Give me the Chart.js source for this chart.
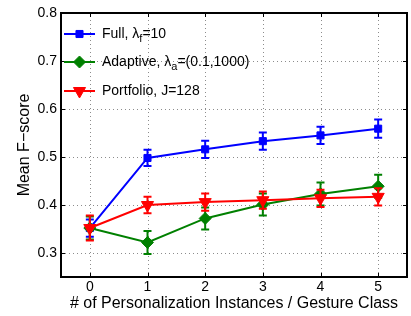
<!DOCTYPE html>
<html><head><meta charset="utf-8">
<script src="https://cdn.jsdelivr.net/npm/chart.js@4"></script>
<style>html,body{margin:0;padding:0;background:#fff}#wrap{width:411px;height:316px}</style>
</head><body><div id="wrap"><canvas id="c" width="411" height="316"></canvas></div>
<script>
const categories = [0, 1, 2, 3, 4, 5];
const fullValues = [0.352, 0.498, 0.516, 0.533, 0.545, 0.559];
const fullErr = [0.018, 0.017, 0.018, 0.018, 0.018, 0.019];
const adaptiveValues = [0.352, 0.322, 0.372, 0.401, 0.423, 0.439];
const adaptiveErr = [0.024, 0.024, 0.023, 0.023, 0.024, 0.024];
const portfolioValues = [0.352, 0.400, 0.406, 0.410, 0.414, 0.417];
const portfolioErr = [0.026, 0.017, 0.018, 0.018, 0.018, 0.018];
const yTicks = [0.3, 0.4, 0.5, 0.6, 0.7, 0.8];
const xTicks = [0, 1, 2, 3, 4, 5];
const legendItems = [
  {pre: 'Full, \u03bb', sub: 'f', post: '=10'},
  {pre: 'Adaptive, \u03bb', sub: 'a', post: '=(0.1,1000)'},
  {pre: 'Portfolio, J=128', sub: '', post: ''}
];
const FONT = '"Liberation Sans", Arial, sans-serif';
const colors = ['#0000ff', '#008000', '#ff0000'];
const styles = [
  {pointStyle: 'rect', radius: 5, rotation: 0},
  {pointStyle: 'rectRot', radius: 6, rotation: 0},
  {pointStyle: 'triangle', radius: 7, rotation: 180}
];
const errs = [fullErr, adaptiveErr, portfolioErr];
const mk = (vals, i) => ({
  data: vals.map((v, k) => ({x: categories[k], y: v})),
  borderColor: colors[i], backgroundColor: colors[i], borderWidth: 2,
  pointStyle: styles[i].pointStyle, pointRadius: styles[i].radius, pointRotation: styles[i].rotation,
  pointBorderWidth: 1, pointHoverRadius: styles[i].radius, tension: 0, order: 3 - i, errIdx: i
});

const errorPlugin = {
  id: 'errbars',
  afterDatasetDraw(chart, args) {
    const ds = chart.data.datasets[args.index];
    const e = errs[ds.errIdx];
    const ctx = chart.ctx, xs = chart.scales.x, ys = chart.scales.y;
    ctx.save();
    ctx.strokeStyle = ds.borderColor; ctx.lineWidth = 2;
    ds.data.forEach((p, k) => {
      const px = xs.getPixelForValue(p.x);
      const t = ys.getPixelForValue(p.y + e[k]), b = ys.getPixelForValue(p.y - e[k]);
      ctx.beginPath();
      ctx.moveTo(px, t); ctx.lineTo(px, b);
      ctx.moveTo(px - 4, t); ctx.lineTo(px + 4, t);
      ctx.moveTo(px - 4, b); ctx.lineTo(px + 4, b);
      ctx.stroke();
    });
    ctx.restore();
  }
};

const gridPlugin = {
  id: 'dotgrid',
  beforeDatasetsDraw(chart) {
    const ctx = chart.ctx, a = chart.chartArea, xs = chart.scales.x, ys = chart.scales.y;
    ctx.save();
    ctx.strokeStyle = '#8c8c8c'; ctx.lineWidth = 1; ctx.setLineDash([1, 3]);
    ctx.beginPath();
    xTicks.forEach(v => { const px = Math.round(xs.getPixelForValue(v)) + 0.5;
      ctx.moveTo(px, a.bottom); ctx.lineTo(px, a.top); });
    yTicks.forEach(v => { const py = Math.round(ys.getPixelForValue(v)) + 0.5;
      ctx.moveTo(a.left, py); ctx.lineTo(a.right, py); });
    ctx.stroke();
    ctx.restore();
  }
};

const framePlugin = {
  id: 'frame',
  afterDraw(chart) {
    const ctx = chart.ctx, a = chart.chartArea, xs = chart.scales.x, ys = chart.scales.y;
    ctx.save();
    ctx.strokeStyle = '#000'; ctx.lineWidth = 1;
    ctx.beginPath();
    xTicks.forEach(v => { const px = Math.round(xs.getPixelForValue(v)) + 0.5;
      ctx.moveTo(px, a.bottom); ctx.lineTo(px, a.bottom - 4);
      ctx.moveTo(px, a.top); ctx.lineTo(px, a.top + 4); });
    yTicks.forEach(v => { const py = Math.round(ys.getPixelForValue(v)) + 0.5;
      ctx.moveTo(a.left, py); ctx.lineTo(a.left + 4, py);
      ctx.moveTo(a.right, py); ctx.lineTo(a.right - 4, py); });
    ctx.stroke();
    ctx.lineWidth = 2;
    ctx.strokeRect(a.left, a.top, a.right - a.left, a.bottom - a.top);
    // legend
    const rows = [34, 62, 91];
    legendItems.forEach((it, i) => {
      const y = rows[i];
      ctx.strokeStyle = colors[i]; ctx.fillStyle = colors[i]; ctx.lineWidth = 2;
      ctx.beginPath(); ctx.moveTo(64, y); ctx.lineTo(95, y); ctx.stroke();
      ctx.lineWidth = 1;
      Chart.helpers.drawPoint(ctx, {pointStyle: styles[i].pointStyle, radius: styles[i].radius, rotation: styles[i].rotation, borderWidth: 1}, 79.5, y);
      ctx.fillStyle = '#000'; ctx.textBaseline = 'middle'; ctx.textAlign = 'left';
      ctx.font = '14px ' + FONT;
      let x = 102;
      ctx.fillText(it.pre, x, y); x += ctx.measureText(it.pre).width;
      if (it.sub) {
        ctx.font = '11px ' + FONT;
        ctx.fillText(it.sub, x, y + 5); x += ctx.measureText(it.sub).width;
        ctx.font = '14px ' + FONT;
        ctx.fillText(it.post, x, y);
      }
    });
    ctx.restore();
  }
};

new Chart(document.getElementById('c'), {
  type: 'line',
  data: {datasets: [mk(fullValues, 0), mk(adaptiveValues, 1), mk(portfolioValues, 2)]},
  plugins: [gridPlugin, errorPlugin, framePlugin],
  options: {
    responsive: false, animation: false, events: [],
    layout: {autoPadding: false, padding: {top: 13, right: 4, left: 0, bottom: 0}},
    plugins: {legend: {display: false}, tooltip: {enabled: false}},
    scales: {
      x: {type: 'linear', min: -0.5, max: 5.5,
        afterBuildTicks: s => { s.ticks = xTicks.map(v => ({value: v})); },
        afterFit: s => { s.height = 39; s.paddingRight = 0; s.paddingLeft = 0; },
        grid: {display: false, drawTicks: false},
        border: {display: false},
        ticks: {color: '#000', font: {family: FONT, size: 14}, padding: 2, maxRotation: 0},
        title: {display: true, text: '# of Personalization Instances / Gesture Class', color: '#000', font: {family: FONT, size: 16}, padding: {top: 0, bottom: 3}}
      },
      y: {min: 0.25, max: 0.8,
        afterBuildTicks: s => { s.ticks = yTicks.map(v => ({value: v})); },
        afterFit: s => { s.width = 61; s.paddingTop = 0; s.paddingBottom = 0; },
        grid: {display: false, drawTicks: false},
        border: {display: false},
        ticks: {color: '#000', font: {family: FONT, size: 14}, padding: 4, callback: v => v.toFixed(1)},
        title: {display: true, text: 'Mean F\u2212score', color: '#000', font: {family: FONT, size: 16}, padding: {top: 15, bottom: 0}}
      }
    }
  }
});
</script>
</body></html>
